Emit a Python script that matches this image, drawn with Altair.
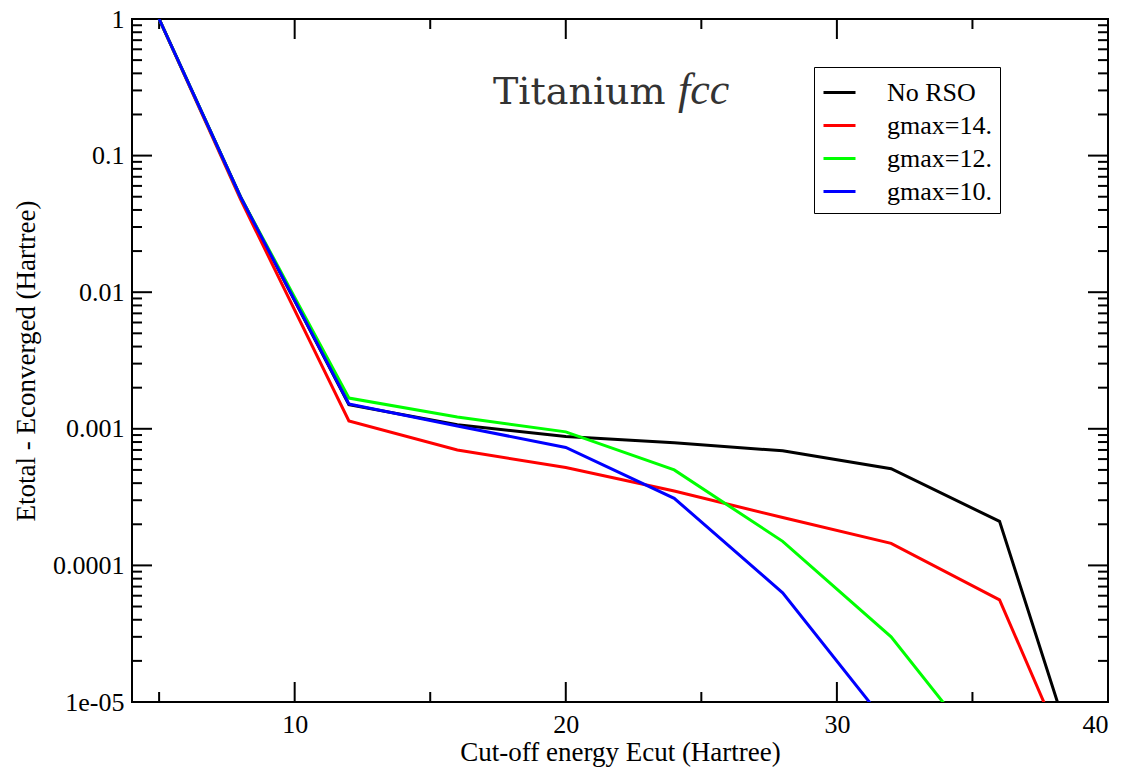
import altair as alt
import pandas as pd

# ---- data ----
ecut_all = [5, 8, 12, 16, 20, 24, 28, 32, 36, 40]
no_rso = [1.0, 0.05, 1.5e-3, 1.07e-3, 8.8e-4, 7.9e-4, 6.9e-4, 5.1e-4, 2.1e-4, 7e-7]
gmax14 = [1.0, 0.048, 1.14e-3, 7.0e-4, 5.2e-4, 3.5e-4, 2.24e-4, 1.45e-4, 5.6e-5, 8.2e-7]
gmax12 = [1.0, 0.05, 1.68e-3, 1.22e-3, 9.5e-4, 5.0e-4, 1.5e-4, 3.0e-5, 3.0e-6]
gmax10 = [1.0, 0.05, 1.52e-3, 1.05e-3, 7.3e-4, 3.1e-4, 6.3e-5, 6.3e-6]

series_names = ["No RSO", "gmax=14.", "gmax=12.", "gmax=10."]
series_colors = ["#000000", "#ff0000", "#00ff00", "#0000ff"]
series_values = [no_rso, gmax14, gmax12, gmax10]

x_major = [10, 20, 30, 40]
x_minor = [5, 15, 25, 35]
y_major = [1, 0.1, 0.01, 0.001, 0.0001, 0.00001]
y_minor = [m * 10.0 ** e for e in range(-5, 0) for m in range(2, 10)]

rows = []
for name, vals in zip(series_names, series_values):
    for i, (x, v) in enumerate(zip(ecut_all, vals)):
        rows.append({"series": name, "ecut": x, "de": v, "order": i})
df = pd.DataFrame(rows)

W, H = 976, 683
FONT = "Liberation Serif"

xscale = alt.Scale(domain=[4, 40], nice=False, zero=False)
yscale = alt.Scale(type="log", domain=[1e-5, 1], nice=False)

lines = alt.Chart(df).mark_line(strokeWidth=3, clip=True).encode(
    x=alt.X("ecut:Q", scale=xscale,
            axis=alt.Axis(values=x_major, format="d", title="Cut-off energy Ecut (Hartree)",
                          ticks=False, domain=False, grid=False, labelPadding=9,
                          titlePadding=2, labelFont=FONT, labelFontSize=26,
                          labelColor="black", titleFont=FONT, titleFontSize=27,
                          titleColor="black", titleFontWeight="normal")),
    y=alt.Y("de:Q", scale=yscale,
            axis=alt.Axis(values=y_major, grid=False, ticks=False, domain=False,
                          labelExpr="datum.value < 0.00005 ? '1e-05' : toString(datum.value)",
                          title="Etotal - Econverged (Hartree)", labelPadding=8,
                          titlePadding=12, labelFont=FONT, labelFontSize=26,
                          labelColor="black", titleFont=FONT, titleFontSize=27,
                          titleColor="black", titleFontWeight="normal")),
    color=alt.Color("series:N",
                    scale=alt.Scale(domain=series_names, range=series_colors),
                    legend=alt.Legend(title=None, orient="none", legendX=682, legendY=48,
                                      symbolType="stroke", symbolSize=1024,
                                      symbolStrokeWidth=3, labelFont=FONT,
                                      labelFontSize=26, labelColor="black",
                                      labelOffset=30, rowPadding=2, padding=8,
                                      strokeColor="black", fillColor="white")),
    order="order:Q",
    detail="series:N",
)

tick_color = "black"
tw = 2
ymaj_df = pd.DataFrame({"v": y_major})
ymin_df = pd.DataFrame({"v": y_minor})
xmaj_df = pd.DataFrame({"v": x_major})
xmin_df = pd.DataFrame({"v": x_minor})

def yticks(d, length):
    left = alt.Chart(d).mark_rule(color=tick_color, strokeWidth=tw).encode(
        y=alt.Y("v:Q", scale=yscale), x=alt.value(0), x2=alt.value(length))
    right = alt.Chart(d).mark_rule(color=tick_color, strokeWidth=tw).encode(
        y=alt.Y("v:Q", scale=yscale), x=alt.value(W), x2=alt.value(W - length))
    return left + right

def xticks(d, length):
    bottom = alt.Chart(d).mark_rule(color=tick_color, strokeWidth=tw).encode(
        x=alt.X("v:Q", scale=xscale), y=alt.value(H), y2=alt.value(H - length))
    top = alt.Chart(d).mark_rule(color=tick_color, strokeWidth=tw).encode(
        x=alt.X("v:Q", scale=xscale), y=alt.value(0), y2=alt.value(length))
    return bottom + top

ticks = yticks(ymaj_df, 20) + yticks(ymin_df, 10) + xticks(xmaj_df, 20) + xticks(xmin_df, 10)

title1 = alt.Chart(pd.DataFrame({"t": ["Titanium"]})).mark_text(
    font="DejaVu Serif", fontSize=38, color="#333333", align="left", baseline="alphabetic"
).encode(text="t:N", x=alt.value(361), y=alt.value(85))
title2 = alt.Chart(pd.DataFrame({"t": ["fcc"]})).mark_text(
    font=FONT, fontSize=44, fontStyle="italic", color="#333333",
    align="left", baseline="alphabetic"
).encode(text="t:N", x=alt.value(546), y=alt.value(85))

chart = alt.layer(ticks, lines, title1, title2).properties(
    width=W, height=H,
    autosize=alt.AutoSizeParams(type="none"),
    padding={"left": 132, "top": 19, "right": 16, "bottom": 65},
    background="white",
).configure_view(stroke="black", strokeWidth=2)

chart.save("out.html", embed_options={"renderer": "svg", "actions": False})
